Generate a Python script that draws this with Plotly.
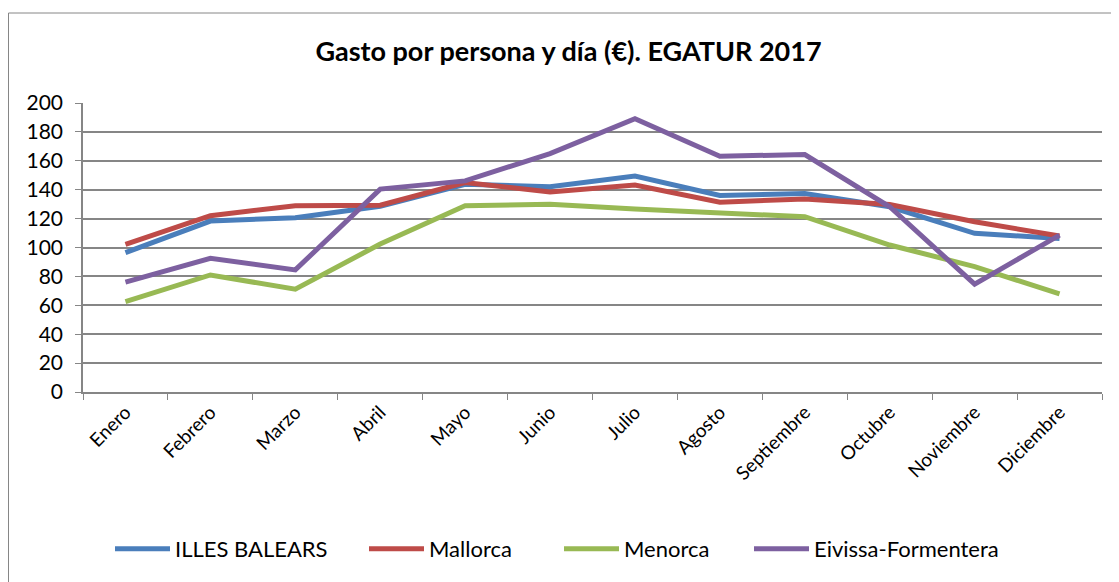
import plotly.graph_objects as go

months = ["Enero", "Febrero", "Marzo", "Abril", "Mayo", "Junio", "Julio",
          "Agosto", "Septiembre", "Octubre", "Noviembre", "Diciembre"]
illes_balears = [96.4, 118.3, 120.6, 128.5, 143.8, 142.0, 149.4, 136.0, 137.4, 128.2, 109.8, 106.3]
mallorca = [102.2, 122.0, 128.9, 129.3, 145.0, 138.5, 143.2, 131.4, 133.5, 129.8, 117.8, 107.9]
menorca = [62.6, 81.0, 71.1, 102.4, 128.9, 130.0, 126.6, 124.0, 121.3, 101.7, 86.8, 67.9]
eivissa = [76.0, 92.5, 84.5, 140.4, 146.1, 165.0, 189.2, 163.2, 164.3, 128.2, 74.6, 108.6]

series = [
    ("ILLES BALEARS", illes_balears, "#4A7EBB"),
    ("Mallorca", mallorca, "#BE4B48"),
    ("Menorca", menorca, "#98B954"),
    ("Eivissa-Formentera", eivissa, "#7D60A0"),
]

FONT = "Lato, Carlito, Calibri, sans-serif"
GRID = "#868686"

W, H = 1111, 574
L, R, T, B = 75, 17, 95, 190
PW, PH = W - L - R, H - T - B

# legend line start positions (figure pixels)
legend_starts = [113, 367, 562, 752]
legend_ids = ["legend", "legend2", "legend3", "legend4"]

fig = go.Figure()
for (name, vals, col), lid in zip(series, legend_ids):
    fig.add_trace(go.Scatter(x=months, y=vals, name=name, mode="lines",
                             line=dict(color=col, width=5), legend=lid))

leg_y = (PH - (541 - T)) / PH
legend_layouts = {}
for lid, xs in zip(legend_ids, legend_starts):
    legend_layouts[lid] = dict(orientation="h", x=(xs - 11 - L) / PW, xanchor="left",
                               y=leg_y, yanchor="middle",
                               font=dict(family=FONT, size=22, color="black"),
                               itemwidth=55, bgcolor="rgba(0,0,0,0)")

fig.update_layout(
    width=W, height=H,
    margin=dict(l=L, r=R, t=T, b=B, autoexpand=False),
    paper_bgcolor="white", plot_bgcolor="white",
    font=dict(family=FONT, size=17, color="black"),
    title=dict(text="<b>Gasto por persona y día (€). EGATUR 2017</b>",
               x=560.5 / W, xanchor="center", y=1 - 44 / H, yanchor="middle",
               font=dict(family=FONT, size=27, color="black")),
    showlegend=True,
    xaxis=dict(type="category", tickson="boundaries", ticks="outside", ticklen=6,
               tickcolor=GRID, showline=True, linecolor=GRID, linewidth=1.5,
               showgrid=False, tickangle=-45, tickfont=dict(size=19),
               range=[-0.5, 11.5]),
    yaxis=dict(range=[0, 200], dtick=20, ticks="outside", ticklen=6, tickcolor=GRID,
               showline=True, linecolor=GRID, linewidth=1.5, showgrid=True,
               gridcolor=GRID, gridwidth=1.5, zeroline=False, tickfont=dict(size=21),
               ticklabelstandoff=8),
    shapes=[dict(type="rect", xref="paper", yref="paper",
                 x0=(8.5 - 83) / PW, x1=(1117 - 83) / PW,
                 y0=-0.8, y1=(392 - 13) / PH,
                 line=dict(color=GRID, width=1), fillcolor="rgba(0,0,0,0)", layer="below")],
    **legend_layouts,
)

fig.write_html("out.html")
